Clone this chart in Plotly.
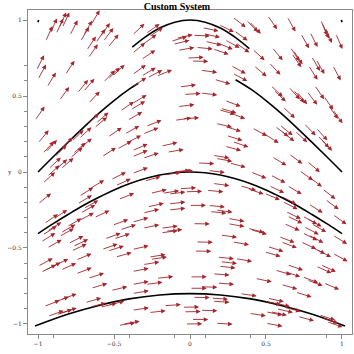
import numpy as np
import plotly.graph_objects as go

# ---- data ----
# arrow tail positions (data units)
arrow_x = [
 -0.95,-0.92,-0.88,-0.86,-0.84,-0.79,-0.72,-0.70,-0.65,-0.68,-0.67,-0.62,-0.59,-0.57,-0.54,
 -1.01,-1.00,-0.94,-0.82,-0.86,-0.74,-0.70,-0.67,-0.57,-0.54,-0.51,-1.02,-1.00,-0.97,-0.95,
 -0.89,-0.85,-0.78,-0.79,-0.77,-0.73,-0.73,-0.68,-0.63,-0.62,-0.54,-0.58,-0.48,-0.46,-0.43,
 -0.42,-0.93,-0.89,-0.85,-0.39,-0.41,
 -0.38,-0.29,-0.27,-0.31,-0.38,-0.32,-0.38,-0.32,-0.28,-0.22,-0.38,-0.125,-0.11,-0.09,-0.08,
 0.04,0.02,0.08,0.09,0.10,0.15,0.18,0.23,0.19,0.28,0.29,0.30,-0.02,0.01,0.07,0.16,0.27,0.28,
 -0.07,-0.04,0.07,0.23,0.19,0.20,0.26,0.17,0.23,-0.38,-0.08,-0.10,-0.05,-0.29,-0.31,-0.19,
 -0.15,-0.38,-0.38,-0.31,0.05,0.15,0.17,0.23,0.24,0.28,0.26,-0.09,
 0.37,0.39,0.51,0.64,0.86,0.87,0.89,0.73,0.79,0.96,0.41,0.54,0.66,0.68,0.67,0.80,0.83,0.42,
 0.52,0.78,0.94,0.53,0.55,0.65,0.68,0.70,0.77,0.82,0.88,0.91,0.94,0.61,0.56,0.59,0.60,0.41,
 0.49,0.69,0.75,0.83,0.84,0.86,0.54,0.65,0.77,
 -0.97,-0.94,-1.00,-0.96,-0.90,-0.97,-0.94,-0.98,-0.94,-0.86,-0.85,-0.81,-0.80,-0.78,-0.77,
 -0.73,-0.72,-0.70,-0.74,-0.73,-0.66,-0.63,-0.56,-0.58,-0.54,-0.51,-0.50,-0.52,-0.49,-0.47,
 -0.46,-0.49,-1.00,-0.98,-0.95,-0.90,-0.85,-0.75,-0.75,-0.67,-0.65,-0.52,-0.96,-0.90,-0.85,
 -0.935,-0.88,-0.85,-0.69,-0.66,-0.59,-0.54,-0.47,-0.44,
 -0.38,-0.30,-0.17,-0.11,0.12,-0.26,-0.18,-0.14,-0.07,-0.03,0.11,0.15,-0.28,-0.14,-0.005,0.12,
 -0.14,-0.31,0.13,0.17,-0.38,-0.31,-0.19,-0.19,-0.16,0.02,0.25,0.25,0.20,0.28,0.04,0.03,
 -0.38,-0.27,-0.26,-0.31,-0.38,-0.22,0.18,0.20,0.19,0.15,0.30,0.00,0.18,-0.38,-0.29,0.07,0.00,
 -0.38,0.02,0.14,0.15,-0.17,-0.05,-0.04,-0.38,-0.27,0.07,0.01,0.17,-0.03,
 0.40,0.53,0.72,0.78,0.33,0.38,0.52,0.49,0.64,0.87,0.60,0.61,0.78,0.89,0.63,0.64,0.74,0.77,
 0.80,0.94,0.62,0.75,0.74,0.78,0.94,0.38,0.40,0.585,0.60,0.73,0.79,0.83,0.94,0.51,0.49,
 0.64,0.56,0.62,0.74,0.77,0.83,0.86,0.88,0.43,0.60,0.695,0.33,0.51,0.49,0.55,0.57,0.62,0.39,
 0.50,0.53,0.71,0.85,0.87,0.50,0.90,
]
arrow_y = [
 0.86,0.91,0.91,0.95,0.95,0.90,0.86,0.90,0.97,0.80,0.75,0.85,0.89,0.86,0.82,
 0.67,0.61,0.56,0.64,0.47,0.52,0.53,0.45,0.59,0.61,0.63,0.34,0.19,0.12,0.13,
 0.10,0.15,0.20,0.09,0.12,0.15,0.22,0.31,0.29,0.32,0.23,0.10,0.15,0.40,0.25,
 0.19,0.02,0.01,0.02,0.41,0.34,
 0.90,0.91,0.89,0.84,0.78,0.74,0.64,0.63,0.62,0.63,0.56,0.86,0.84,0.88,0.80,
 0.82,0.90,0.95,0.91,0.86,0.81,0.85,0.87,0.97,1.02,0.93,0.85,0.75,0.73,0.67,0.61,0.70,0.65,
 0.56,0.51,0.52,0.47,0.41,0.42,0.39,0.32,0.30,0.45,0.43,0.34,0.35,0.30,0.25,0.17,
 0.13,0.14,0.10,0.09,0.06,0.11,0.09,0.17,0.24,0.20,0.06,0.00,
 1.00,0.99,1.03,1.02,1.00,0.98,0.95,0.91,0.92,0.91,0.81,0.82,0.82,0.80,0.78,0.76,0.74,0.70,
 0.72,0.70,0.70,0.57,0.54,0.56,0.54,0.53,0.53,0.57,0.50,0.44,0.41,0.43,0.30,0.31,0.27,0.29,
 0.25,0.27,0.32,0.29,0.24,0.22,0.10,0.12,0.07,
 -0.075,-0.03,-0.21,-0.34,-0.31,-0.415,-0.39,-0.46,-0.50,-0.425,-0.40,-0.36,-0.47,-0.52,-0.49,
 -0.32,-0.27,-0.24,-0.21,-0.16,-0.11,-0.30,-0.44,-0.51,-0.52,-0.35,-0.44,-0.05,-0.09,-0.18,
 -0.38,-0.56,-0.62,-0.66,-0.645,-0.62,-0.645,-0.58,-0.67,-0.70,-0.765,-0.78,-0.885,-0.86,-0.84,
 -0.95,-0.94,-0.93,-0.86,-0.89,-0.89,-0.875,-1.01,-1.00,
 -0.01,-0.06,-0.02,0.00,0.01,-0.14,-0.14,-0.145,-0.11,-0.13,-0.12,-0.075,-0.23,-0.21,-0.22,-0.22,
 -0.25,-0.27,-0.26,-0.25,-0.33,-0.37,-0.37,-0.40,-0.39,-0.34,-0.305,-0.34,-0.415,-0.46,-0.46,-0.52,
 -0.51,-0.56,-0.575,-0.61,-0.655,-0.70,-0.56,-0.59,-0.62,-0.67,-0.57,-0.69,-0.73,-0.74,-0.74,-0.755,-0.765,
 -0.80,-0.825,-0.83,-0.85,-0.88,-0.89,-0.92,-0.91,-0.925,-0.91,-0.97,-0.995,-1.00,
 0.00,-0.02,0.01,-0.03,-0.09,-0.11,-0.09,-0.14,-0.09,-0.11,-0.16,-0.195,-0.21,-0.18,-0.26,-0.29,-0.29,-0.305,
 -0.34,-0.28,-0.34,-0.36,-0.40,-0.415,-0.415,-0.37,-0.38,-0.425,-0.46,-0.46,-0.49,-0.51,-0.535,-0.49,-0.525,
 -0.61,-0.645,-0.655,-0.69,-0.71,-0.62,-0.61,-0.73,-0.70,-0.74,-0.79,-0.80,-0.83,-0.85,-0.86,-0.90,-0.89,-0.93,
 -0.92,-0.92,-0.95,-0.94,-0.96,-0.995,-0.985,
]

# streamlines
stream_top_x = [-0.38, -0.30, -0.20, -0.10, 0.00, 0.10, 0.20, 0.30, 0.39]
stream_top_y = [0.821, 0.884, 0.947, 0.986, 1.000, 0.986, 0.947, 0.884, 0.812]
stream_b1_x = [-1.00, -0.90, -0.80, -0.70, -0.60, -0.50, -0.40, -0.34]
stream_b1_y = [0.000, 0.100, 0.198, 0.294, 0.386, 0.470, 0.545, 0.584]
stream_b2_x = [0.30, 0.40, 0.50, 0.60, 0.70, 0.80, 0.90, 1.00]
stream_b2_y = [0.607, 0.545, 0.470, 0.386, 0.294, 0.198, 0.100, 0.000]
stream_c_x = [-1.0, -0.9, -0.8, -0.7, -0.6, -0.5, -0.4, -0.3, -0.2, -0.1, 0.0,
              0.1, 0.2, 0.3, 0.4, 0.5, 0.6, 0.7, 0.8, 0.9, 1.0]
stream_c_y = [-0.405, -0.340, -0.278, -0.219, -0.166, -0.118, -0.077, -0.044, -0.020, -0.005, 0.0,
              -0.005, -0.020, -0.044, -0.077, -0.118, -0.166, -0.219, -0.278, -0.340, -0.405]
stream_d_x = [-1.02, -0.8, -0.6, -0.4, -0.2, 0.0, 0.2, 0.4, 0.6, 0.8, 1.02]
stream_d_y = [-1.013, -0.934, -0.878, -0.835, -0.809, -0.800, -0.809, -0.835, -0.878, -0.934, -1.013]
stream_corner_l_x = [-1.0, -0.996]
stream_corner_l_y = [0.985, 1.0]
stream_corner_r_x = [0.996, 1.0]
stream_corner_r_y = [1.0, 0.985]

tick_vals = [-1, -0.5, 0, 0.5, 1]
tick_text = ["\u22121", "\u22120.5", "0", "0.5", "1"]
x_minor = [-0.9, -0.4, -0.1, 0.1, 0.4, 0.9]
y_minor = [0.7, 0.6, 0.4, 0.3, 0.2, 0.1, -0.1, -0.2, -0.3, -0.4, -0.6, -0.7, -0.8, -0.9]

title_text = "Custom System"
arrow_color = "#a3262d"
arrow_len = 0.11


def field(x, y):
    return 1.0, -x * np.exp(y)


fig = go.Figure()

for sx, sy in [(stream_top_x, stream_top_y), (stream_b1_x, stream_b1_y),
               (stream_b2_x, stream_b2_y), (stream_c_x, stream_c_y),
               (stream_d_x, stream_d_y), (stream_corner_l_x, stream_corner_l_y),
               (stream_corner_r_x, stream_corner_r_y)]:
    fig.add_trace(go.Scatter(x=sx, y=sy, mode="lines", line_shape="spline",
                             line=dict(color="black", width=1.6),
                             hoverinfo="skip", showlegend=False))

annotations = []
for x0, y0 in zip(arrow_x, arrow_y):
    u, v = field(x0, y0)
    n = np.hypot(u, v)
    x1 = x0 + arrow_len * u / n
    y1 = y0 + arrow_len * v / n
    annotations.append(dict(x=x1, y=y1, ax=x0, ay=y0, xref="x", yref="y",
                            axref="x", ayref="y", text="", showarrow=True,
                            arrowhead=2, arrowsize=1.0, arrowwidth=0.9,
                            arrowcolor=arrow_color, standoff=0, startstandoff=0))

annotations.append(dict(x=-0.071, y=0.5, xref="paper", yref="paper", text="y",
                        showarrow=False, font=dict(size=6, color="#333",
                                                   family="DejaVu Serif")))

axis_common = dict(range=[-1.066, 1.066], showline=True, mirror=True,
                   linecolor="#8a8a8a", linewidth=1, ticks="outside", ticklen=4,
                   tickcolor="#8a8a8a", tickwidth=1, tickvals=tick_vals,
                   ticktext=tick_text, showgrid=False, zeroline=False,
                   tickfont=dict(size=6, color="#333", family="DejaVu Serif"))

fig.update_layout(
    width=354, height=354, autosize=False,
    margin=dict(l=28, r=2, t=10, b=20),
    plot_bgcolor="white", paper_bgcolor="white",
    title=dict(text="<b>" + title_text + "</b>", x=0.5, xref="container",
               y=0.983, yref="container", yanchor="middle", xanchor="center",
               font=dict(size=10, color="black", family="Liberation Serif")),
    xaxis=dict(**axis_common, minor=dict(tickvals=x_minor, ticks="outside",
                                         ticklen=3, tickcolor="#8a8a8a")),
    yaxis=dict(**axis_common, minor=dict(tickvals=y_minor, ticks="outside",
                                         ticklen=3, tickcolor="#8a8a8a")),
    annotations=annotations,
    showlegend=False,
)

fig.write_html("out.html")
